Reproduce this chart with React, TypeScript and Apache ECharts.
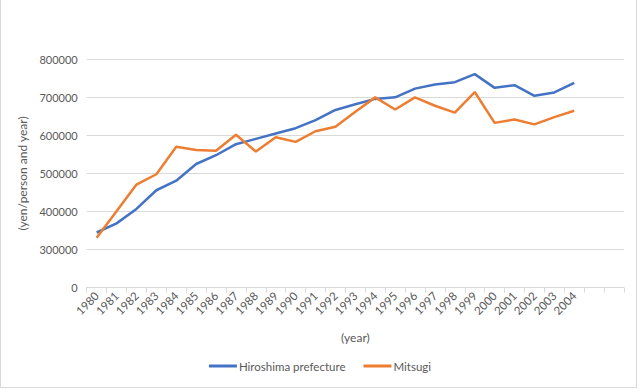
import React, { useEffect, useRef } from "react";
import * as echarts from "echarts";

const years = [
  "1980", "1981", "1982", "1983", "1984", "1985", "1986", "1987", "1988", "1989",
  "1990", "1991", "1992", "1993", "1994", "1995", "1996", "1997", "1998", "1999",
  "2000", "2001", "2002", "2003", "2004", "", "",
];

const hiroshima = [
  345000, 369000, 407000, 456000, 481000, 525000, 548000, 577000, 591000, 605000,
  619000, 640000, 667000, 682000, 696000, 700000, 723000, 734000, 740000, 761000,
  725000, 732000, 704000, 713000, 738000,
];

const mitsugi = [
  331000, 401000, 471000, 498000, 570000, 562000, 560000, 602000, 558000, 595000,
  583000, 611000, 623000, 662000, 700000, 668000, 700000, 678000, 660000, 714000,
  633000, 642000, 629000, 648000, 665000,
];

const yTicks = { min: 200000, max: 800000, interval: 100000 };

const FONT = "Lato, 'Open Sans', sans-serif";
const TXT = "#595959";

export default function App() {
  const ref = useRef<HTMLDivElement>(null);
  useEffect(() => {
    if (!ref.current) return;
    const chart = echarts.init(ref.current, undefined, { renderer: "svg" });
    chart.setOption({
      animation: false,
      backgroundColor: "transparent",
      textStyle: { fontFamily: FONT },
      grid: { left: 86.7, right: 16, top: 59.3, bottom: 102.3, containLabel: false },
      legend: {
        bottom: 13,
        left: "center",
        icon: "rect",
        itemWidth: 28,
        itemHeight: 3,
        itemGap: 18,
        textStyle: { color: TXT, fontSize: 11.5, fontFamily: FONT, padding: [0, 0, 0, -3] },
        data: ["Hiroshima prefecture", "Mitsugi"],
      },
      xAxis: {
        type: "category",
        data: years,
        boundaryGap: true,
        name: "(year)",
        nameLocation: "middle",
        nameGap: 44,
        nameTextStyle: { color: TXT, fontSize: 12, fontFamily: FONT },
        axisLine: { lineStyle: { color: "#d9d9d9" } },
        axisTick: { show: true, alignWithLabel: false, length: 5, lineStyle: { color: "#d9d9d9" }, interval: 0 },
        axisLabel: { rotate: 45, interval: 0, color: TXT, fontSize: 11.5, fontFamily: FONT, margin: 6 },
        splitLine: { show: false },
      },
      yAxis: {
        type: "value",
        min: yTicks.min,
        max: yTicks.max,
        interval: yTicks.interval,
        name: "(yen/person and year)",
        nameLocation: "middle",
        nameGap: 47,
        nameRotate: 90,
        nameTextStyle: { color: TXT, fontSize: 12, fontFamily: FONT },
        axisLine: { show: false },
        axisTick: { show: false },
        axisLabel: {
          color: TXT,
          fontSize: 11,
          fontFamily: FONT,
          margin: 9,
          formatter: (v: number) => (v === yTicks.min ? "0" : String(v)),
        },
        splitLine: { lineStyle: { color: "#d9d9d9", width: 1 } },
      },
      series: [
        {
          name: "Hiroshima prefecture",
          type: "line",
          data: hiroshima,
          symbol: "none",
          lineStyle: { color: "#4472C4", width: 2.5 },
          itemStyle: { color: "#4472C4" },
        },
        {
          name: "Mitsugi",
          type: "line",
          data: mitsugi,
          symbol: "none",
          lineStyle: { color: "#ED7D31", width: 2.5 },
          itemStyle: { color: "#ED7D31" },
        },
      ],
    });
    return () => chart.dispose();
  }, []);
  return (
    <div
      style={{
        position: "fixed",
        left: 0,
        top: 0,
        width: 640,
        height: 390,
        background: "#fff",
      }}
    >
      <div ref={ref} style={{ position: "absolute", left: 0, top: 0, width: 640, height: 390 }} />
      <div
        style={{
          position: "absolute",
          left: 0,
          top: -1,
          width: 637,
          height: 389,
          border: "1px solid #d9d9d9",
          boxSizing: "border-box",
          pointerEvents: "none",
        }}
      />
    </div>
  );
}
